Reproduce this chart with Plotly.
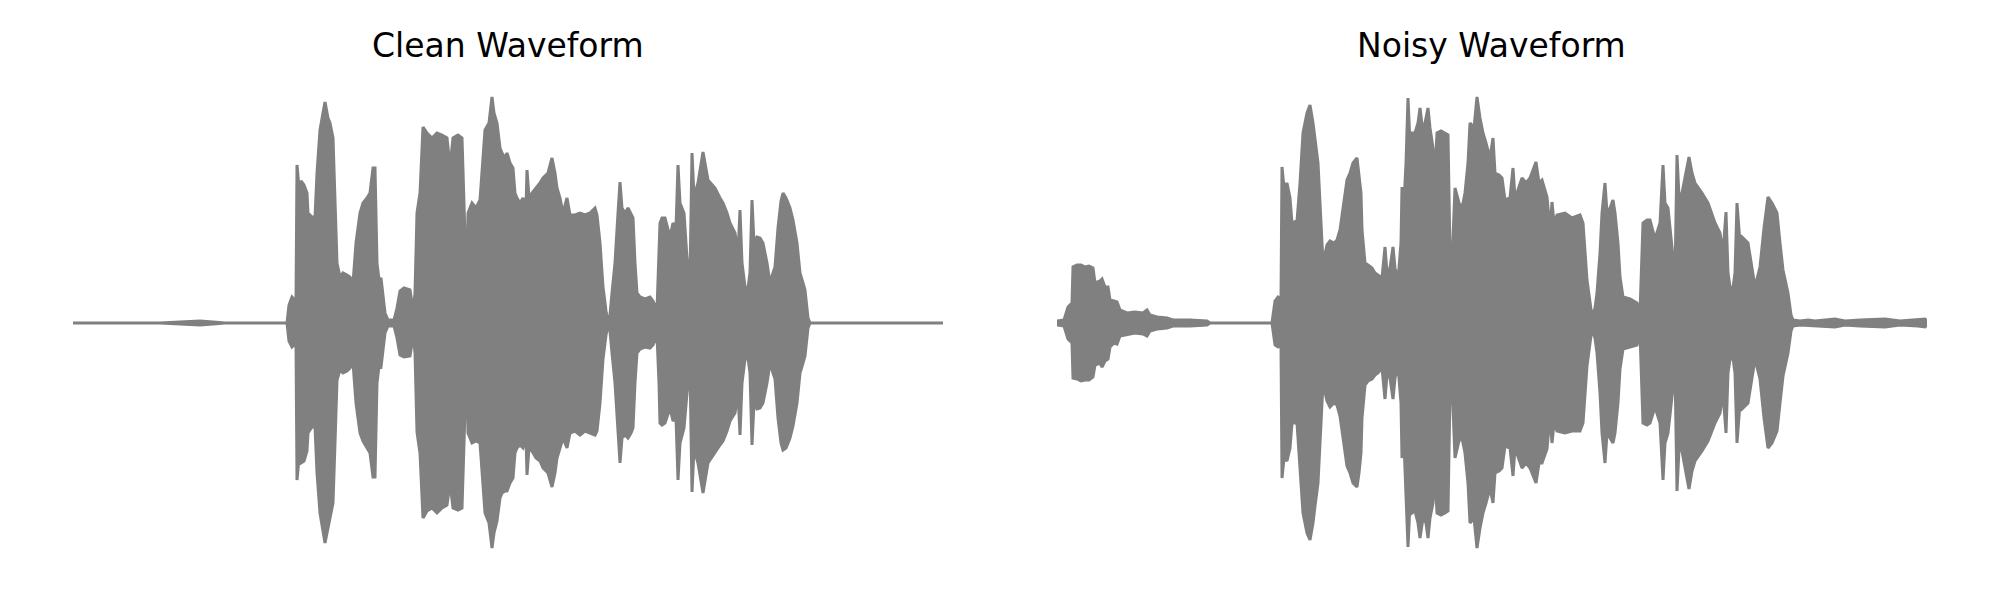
import plotly.graph_objects as go

# ---- data: waveform envelopes (time in s, normalized amplitude) ----
t_clean = [0.00, 0.87, 1.07, 1.27, 1.40, 1.52, 2.14, 2.16, 2.19, 2.23, 2.24, 2.26, 2.28, 2.31, 2.34, 2.35,
           2.39, 2.42, 2.44, 2.47, 2.50, 2.52, 2.55, 2.57, 2.60, 2.62, 2.64, 2.67, 2.70, 2.74, 2.77, 2.80,
           2.83, 2.87, 2.90, 2.94, 2.97, 3.00, 3.02, 3.04, 3.06, 3.08, 3.10, 3.12, 3.15, 3.21, 3.24, 3.27,
           3.31, 3.37, 3.39, 3.40, 3.42, 3.44, 3.47, 3.50, 3.54, 3.59, 3.64, 3.69, 3.74, 3.77, 3.80, 3.85,
           3.89, 3.91, 3.93, 3.94, 3.95, 3.99, 4.03, 4.07, 4.12, 4.16, 4.19, 4.21, 4.24, 4.27, 4.29, 4.32,
           4.34, 4.37, 4.40, 4.42, 4.44, 4.47, 4.50, 4.53, 4.54, 4.56, 4.59, 4.63, 4.67, 4.70, 4.75, 4.79,
           4.82, 4.84, 4.87, 4.90, 4.94, 4.97, 5.02, 5.07, 5.12, 5.17, 5.22, 5.24, 5.27, 5.30, 5.33, 5.35,
           5.37, 5.39, 5.42, 5.45, 5.47, 5.49, 5.52, 5.55, 5.58, 5.60, 5.62, 5.64, 5.67, 5.72, 5.77, 5.80,
           5.84, 5.86, 5.87, 5.89, 5.92, 5.97, 6.00, 6.03, 6.05, 6.07, 6.11, 6.14, 6.17, 6.19, 6.21, 6.25,
           6.30, 6.35, 6.39, 6.42, 6.47, 6.50, 6.54, 6.57, 6.62, 6.65, 6.67, 6.69, 6.72, 6.75, 6.77, 6.79,
           6.81, 6.84, 6.87, 6.90, 6.94, 6.97, 7.00, 7.02, 7.05, 7.08, 7.10, 7.13, 7.17, 7.20, 7.24, 7.27,
           7.30, 7.32, 7.35, 7.37, 8.70]
up_clean = [0, 0, 0.004, 0.008, 0.004, 0, 0, 0.072, 0.104, 0.088, 0.632, 0.540, 0.568, 0.552, 0.520, 0.440,
            0.424, 0.424, 0.600, 0.772, 0.840, 0.884, 0.820, 0.800, 0.740, 0.480, 0.240, 0.184, 0.200, 0.192, 0.184, 0.160,
            0.320, 0.440, 0.480, 0.500, 0.520, 0.620, 0.620, 0.240, 0.172, 0.180, 0.120, 0.040, 0.012, 0.012, 0.060, 0.128,
            0.140, 0.132, 0.080, 0.032, 0.120, 0.440, 0.520, 0.784, 0.760, 0.740, 0.760, 0.752, 0.740, 0.624, 0.740, 0.752,
            0.740, 0.480, 0.212, 0.212, 0.440, 0.480, 0.460, 0.492, 0.772, 0.800, 0.904, 0.840, 0.800, 0.700, 0.680, 0.660,
            0.680, 0.640, 0.620, 0.520, 0.500, 0.480, 0.500, 0.460, 0.612, 0.500, 0.520, 0.540, 0.560, 0.580, 0.600, 0.660,
            0.600, 0.540, 0.500, 0.440, 0.500, 0.432, 0.432, 0.440, 0.432, 0.440, 0.460, 0.432, 0.320, 0.144, 0.048, 0.012,
            0.032, 0.120, 0.240, 0.440, 0.564, 0.460, 0.440, 0.460, 0.432, 0.420, 0.240, 0.120, 0.104, 0.096, 0.104, 0.088,
            0.052, 0.240, 0.400, 0.420, 0.420, 0.344, 0.400, 0.380, 0.632, 0.480, 0.440, 0.260, 0.184, 0.680, 0.504, 0.560,
            0.684, 0.572, 0.552, 0.540, 0.500, 0.480, 0.440, 0.400, 0.360, 0.280, 0.452, 0.240, 0.144, 0.140, 0.200, 0.492,
            0.320, 0.344, 0.340, 0.320, 0.240, 0.160, 0.200, 0.224, 0.380, 0.488, 0.520, 0.500, 0.460, 0.412, 0.320, 0.200,
            0.160, 0.132, 0.020, 0, 0]
lo_clean = [0, 0, -0.004, -0.008, -0.004, 0, 0, -0.072, -0.096, -0.080, -0.628, -0.540, -0.560, -0.552, -0.512, -0.440,
            -0.416, -0.416, -0.600, -0.760, -0.832, -0.880, -0.820, -0.780, -0.720, -0.480, -0.228, -0.188, -0.200, -0.192, -0.180, -0.160,
            -0.320, -0.440, -0.472, -0.500, -0.520, -0.616, -0.616, -0.240, -0.172, -0.176, -0.120, -0.040, -0.012, -0.012, -0.060, -0.128,
            -0.136, -0.132, -0.080, -0.032, -0.120, -0.436, -0.520, -0.780, -0.752, -0.740, -0.760, -0.740, -0.728, -0.640, -0.740, -0.748,
            -0.740, -0.480, -0.220, -0.220, -0.440, -0.480, -0.472, -0.480, -0.760, -0.800, -0.900, -0.840, -0.792, -0.700, -0.680, -0.672,
            -0.672, -0.640, -0.620, -0.520, -0.500, -0.488, -0.500, -0.460, -0.608, -0.500, -0.512, -0.540, -0.552, -0.580, -0.600, -0.656,
            -0.600, -0.540, -0.500, -0.460, -0.500, -0.440, -0.432, -0.448, -0.432, -0.440, -0.448, -0.432, -0.320, -0.144, -0.048, -0.012,
            -0.032, -0.120, -0.240, -0.440, -0.560, -0.460, -0.448, -0.460, -0.440, -0.420, -0.240, -0.120, -0.104, -0.096, -0.100, -0.088,
            -0.052, -0.240, -0.400, -0.408, -0.400, -0.340, -0.392, -0.380, -0.628, -0.480, -0.420, -0.280, -0.180, -0.676, -0.504, -0.560,
            -0.680, -0.560, -0.540, -0.520, -0.488, -0.472, -0.432, -0.392, -0.360, -0.280, -0.448, -0.240, -0.144, -0.140, -0.200, -0.488,
            -0.320, -0.344, -0.340, -0.320, -0.240, -0.160, -0.200, -0.224, -0.380, -0.480, -0.508, -0.500, -0.460, -0.412, -0.320, -0.200,
            -0.160, -0.132, -0.020, 0, 0]

t_noisy = [0.00, 0.07, 0.11, 0.15, 0.16, 0.20, 0.24, 0.28, 0.32, 0.36, 0.38, 0.43, 0.45, 0.48, 0.51, 0.53,
           0.57, 0.60, 0.63, 0.70, 0.78, 0.86, 0.90, 0.93, 1.00, 1.10, 1.16, 1.33, 1.50, 1.53, 2.15, 2.18,
           2.21, 2.24, 2.25, 2.27, 2.30, 2.33, 2.35, 2.40, 2.43, 2.46, 2.50, 2.53, 2.56, 2.58, 2.61, 2.63,
           2.66, 2.70, 2.73, 2.77, 2.80, 2.83, 2.87, 2.90, 2.93, 2.96, 3.00, 3.02, 3.04, 3.05, 3.08, 3.11,
           3.15, 3.18, 3.21, 3.25, 3.28, 3.30, 3.33, 3.36, 3.38, 3.41, 3.44, 3.45, 3.47, 3.49, 3.51, 3.53,
           3.55, 3.58, 3.61, 3.63, 3.66, 3.69, 3.71, 3.73, 3.76, 3.78, 3.80, 3.84, 3.88, 3.91, 3.93, 3.95,
           3.98, 4.02, 4.05, 4.08, 4.11, 4.13, 4.17, 4.20, 4.23, 4.26, 4.29, 4.33, 4.36, 4.38, 4.42, 4.45,
           4.48, 4.53, 4.56, 4.58, 4.60, 4.65, 4.69, 4.73, 4.79, 4.82, 4.85, 4.90, 4.93, 4.95, 4.97, 5.00,
           5.08, 5.15, 5.23, 5.26, 5.30, 5.33, 5.35, 5.38, 5.40, 5.43, 5.45, 5.48, 5.50, 5.53, 5.56, 5.58,
           5.61, 5.63, 5.66, 5.73, 5.80, 5.83, 5.85, 5.86, 5.90, 5.93, 5.98, 6.03, 6.06, 6.08, 6.11, 6.16,
           6.18, 6.20, 6.22, 6.25, 6.29, 6.32, 6.35, 6.38, 6.45, 6.51, 6.58, 6.63, 6.66, 6.69, 6.71, 6.73,
           6.76, 6.78, 6.80, 6.83, 6.85, 6.91, 6.98, 7.03, 7.07, 7.11, 7.15, 7.20, 7.23, 7.26, 7.31, 7.34,
           7.36, 7.43, 7.51, 7.58, 7.78, 7.88, 8.03, 8.28, 8.43, 8.61, 8.68, 8.70]
up_noisy = [0.008, 0.012, 0.064, 0.080, 0.224, 0.232, 0.232, 0.224, 0.228, 0.220, 0.160, 0.168, 0.176, 0.144, 0.144, 0.092,
            0.088, 0.084, 0.052, 0.040, 0.044, 0.040, 0.052, 0.032, 0.024, 0.020, 0.012, 0.012, 0.008, 0, 0, 0.088,
            0.104, 0.096, 0.624, 0.540, 0.560, 0.500, 0.400, 0.408, 0.560, 0.760, 0.840, 0.872, 0.800, 0.732, 0.640, 0.480,
            0.240, 0.312, 0.328, 0.320, 0.332, 0.372, 0.480, 0.572, 0.600, 0.640, 0.660, 0.600, 0.520, 0.372, 0.240, 0.232,
            0.220, 0.200, 0.192, 0.180, 0.304, 0.200, 0.220, 0.304, 0.220, 0.172, 0.320, 0.544, 0.480, 0.640, 0.900, 0.720,
            0.760, 0.760, 0.800, 0.860, 0.760, 0.820, 0.860, 0.780, 0.700, 0.600, 0.760, 0.768, 0.760, 0.752, 0.280, 0.240,
            0.540, 0.480, 0.460, 0.520, 0.640, 0.800, 0.780, 0.904, 0.820, 0.760, 0.720, 0.660, 0.740, 0.600, 0.592, 0.580,
            0.492, 0.500, 0.620, 0.500, 0.520, 0.580, 0.560, 0.580, 0.644, 0.560, 0.572, 0.504, 0.372, 0.484, 0.400, 0.432,
            0.440, 0.420, 0.432, 0.400, 0.172, 0.080, 0.024, 0.060, 0.120, 0.280, 0.440, 0.560, 0.440, 0.460, 0.492, 0.440,
            0.320, 0.184, 0.104, 0.096, 0.080, 0.040, 0.240, 0.400, 0.412, 0.412, 0.336, 0.400, 0.632, 0.480, 0.460, 0.260,
            0.184, 0.672, 0.504, 0.520, 0.600, 0.664, 0.600, 0.560, 0.520, 0.480, 0.400, 0.360, 0.280, 0.444, 0.200, 0.144,
            0.140, 0.200, 0.480, 0.320, 0.344, 0.320, 0.144, 0.224, 0.380, 0.504, 0.480, 0.440, 0.320, 0.212, 0.120, 0.032,
            0.012, 0.008, 0.012, 0.008, 0.016, 0.008, 0.012, 0.016, 0.008, 0.012, 0.016, 0.008]
lo_noisy = [-0.008, -0.012, -0.064, -0.080, -0.220, -0.224, -0.232, -0.228, -0.228, -0.216, -0.168, -0.160, -0.176, -0.152, -0.144, -0.096,
            -0.080, -0.084, -0.052, -0.048, -0.040, -0.044, -0.052, -0.032, -0.024, -0.020, -0.012, -0.012, -0.008, 0, 0, -0.088,
            -0.096, -0.088, -0.620, -0.540, -0.552, -0.500, -0.400, -0.400, -0.560, -0.760, -0.840, -0.868, -0.800, -0.732, -0.640, -0.480,
            -0.240, -0.312, -0.336, -0.320, -0.328, -0.372, -0.480, -0.572, -0.600, -0.640, -0.656, -0.600, -0.520, -0.380, -0.248, -0.232,
            -0.224, -0.208, -0.200, -0.180, -0.304, -0.208, -0.220, -0.304, -0.220, -0.172, -0.320, -0.540, -0.480, -0.640, -0.896, -0.720,
            -0.760, -0.752, -0.800, -0.860, -0.780, -0.800, -0.860, -0.780, -0.720, -0.600, -0.760, -0.768, -0.760, -0.752, -0.280, -0.240,
            -0.540, -0.472, -0.460, -0.520, -0.640, -0.800, -0.780, -0.900, -0.820, -0.760, -0.720, -0.660, -0.720, -0.600, -0.592, -0.580,
            -0.492, -0.500, -0.612, -0.500, -0.520, -0.580, -0.560, -0.580, -0.640, -0.560, -0.560, -0.504, -0.372, -0.480, -0.400, -0.432,
            -0.440, -0.432, -0.432, -0.400, -0.172, -0.080, -0.024, -0.060, -0.120, -0.280, -0.440, -0.560, -0.440, -0.460, -0.480, -0.440,
            -0.320, -0.184, -0.104, -0.096, -0.088, -0.040, -0.240, -0.400, -0.408, -0.400, -0.336, -0.400, -0.628, -0.480, -0.440, -0.260,
            -0.184, -0.672, -0.504, -0.512, -0.600, -0.664, -0.592, -0.552, -0.512, -0.472, -0.400, -0.360, -0.280, -0.440, -0.200, -0.144,
            -0.140, -0.200, -0.480, -0.320, -0.344, -0.320, -0.144, -0.224, -0.380, -0.500, -0.480, -0.432, -0.320, -0.212, -0.120, -0.032,
            -0.012, -0.008, -0.012, -0.012, -0.016, -0.008, -0.012, -0.016, -0.008, -0.012, -0.016, -0.008]

titles = ["Clean Waveform", "Noisy Waveform"]

# ---- styling / layout (page has an 8px body margin) ----
WAVE_COLOR = "#808080"
OFF = 8
W, H = 2000 - OFF, 600 - OFF
domains = [[(73 - OFF) / W, (943 - OFF) / W], [(1057 - OFF) / W, (1927 - OFF) / W]]
PX_PER_UNIT = 250.0
CENTER_Y = 323
Y_RANGE = [-(600 - CENTER_Y) / PX_PER_UNIT, (CENTER_Y - OFF) / PX_PER_UNIT]
X_RANGE = [0, 8.70]

fig = go.Figure()
series = [(t_clean, up_clean, lo_clean), (t_noisy, up_noisy, lo_noisy)]
for i, (t, up, lo) in enumerate(series):
    xs = list(t) + list(t)[::-1]
    ys = list(up) + list(lo)[::-1]
    fig.add_trace(go.Scatter(
        x=xs, y=ys, mode="lines", fill="toself",
        fillcolor=WAVE_COLOR, line=dict(color=WAVE_COLOR, width=3),
        xaxis="x" if i == 0 else "x2", yaxis="y" if i == 0 else "y2",
        hoverinfo="skip", showlegend=False,
    ))

axis_common = dict(visible=False, showgrid=False, zeroline=False, fixedrange=True)
fig.update_layout(
    width=W, height=H,
    margin=dict(l=0, r=0, t=0, b=0),
    paper_bgcolor="white", plot_bgcolor="white",
    showlegend=False,
    xaxis=dict(domain=domains[0], range=X_RANGE, anchor="y", **axis_common),
    yaxis=dict(domain=[0, 1], range=Y_RANGE, anchor="x", **axis_common),
    xaxis2=dict(domain=domains[1], range=X_RANGE, anchor="y2", **axis_common),
    yaxis2=dict(domain=[0, 1], range=Y_RANGE, anchor="x2", **axis_common),
)

for i, title in enumerate(titles):
    fig.add_annotation(
        text=title, xref="paper", yref="paper",
        x=sum(domains[i]) / 2, y=1 - (46 - OFF) / H,
        xanchor="center", yanchor="middle", showarrow=False,
        font=dict(family="DejaVu Sans", size=33, color="black"),
    )

fig.write_html("out.html")
